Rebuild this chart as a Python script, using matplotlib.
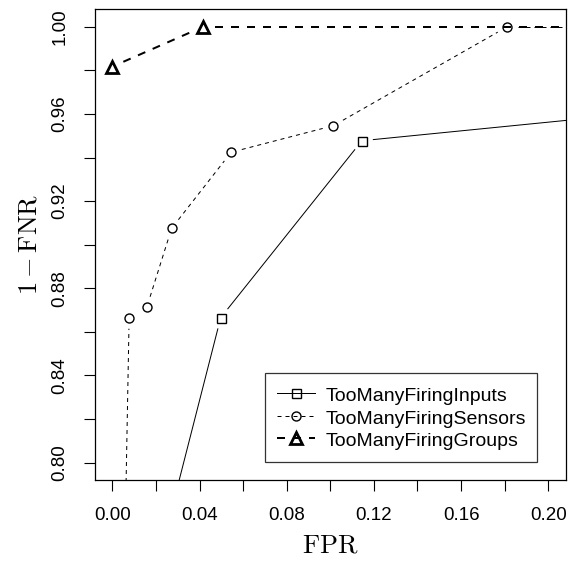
import matplotlib
matplotlib.use("Agg")
import matplotlib.pyplot as plt
from matplotlib.lines import Line2D
import numpy as np

plt.rcParams['font.family'] = ['Liberation Sans', 'DejaVu Sans']
plt.rcParams['mathtext.fontset'] = 'cm'
plt.rcParams['lines.scale_dashes'] = False

# Data (off-plot endpoints continue the visible segments)
inputs_fpr = [0.0, 0.0497, 0.1145, 0.64]
inputs_tpr = [0.672, 0.8665, 0.9477, 1.0]
sensors_fpr = [0.0, 0.0077, 0.0158, 0.0272, 0.0545, 0.1014, 0.1812, 1.0]
sensors_tpr = [0.45, 0.8665, 0.8713, 0.9075, 0.9424, 0.9546, 1.0, 1.0]
groups_fpr = [0.0, 0.0417, 1.0]
groups_tpr = [0.9817, 1.0, 1.0]
# which points carry markers (visible data points)
inputs_marks = [1, 2]
sensors_marks = [1, 2, 3, 4, 5, 6]
groups_marks = [0, 1]

series_names = ["TooManyFiringInputs", "TooManyFiringSensors", "TooManyFiringGroups"]

xticks = [0.00, 0.04, 0.08, 0.12, 0.16, 0.20]
yticks = [0.80, 0.84, 0.88, 0.92, 0.96, 1.00]

fig = plt.figure(figsize=(5.69, 5.69), dpi=100)
ax = fig.add_axes([0.1668, 0.1562, 0.9942 - 0.1668, 0.9837 - 0.1562])
ax.set_xlim(-0.008, 0.208)
ax.set_ylim(0.792, 1.008)

px = 72 / 100.0  # one pixel in points

styles = [
    dict(lw=1.0 * px, dashes=None, marker='s', ms=9 * px, mew=1.0, gap=11),
    dict(lw=1.0 * px, dashes=(4 * px, 4 * px), marker='o', ms=9 * px, mew=1.0, gap=11),
    dict(lw=2.0 * px, dashes=(8 * px, 8 * px), marker='^', ms=11.5 * px, mew=2.0, gap=12),
]
series = [(inputs_fpr, inputs_tpr, inputs_marks),
          (sensors_fpr, sensors_tpr, sensors_marks),
          (groups_fpr, groups_tpr, groups_marks)]

tr = ax.transData
inv = tr.inverted()
for (xs, ys, marks), st in zip(series, styles):
    P = tr.transform(np.column_stack([xs, ys]))
    for i in range(len(xs) - 1):
        a, b = P[i].copy(), P[i + 1].copy()
        d = b - a
        L = np.hypot(*d)
        u = d / L
        g0 = st['gap'] if i in marks else 0
        g1 = st['gap'] if (i + 1) in marks else 0
        if L <= g0 + g1:
            continue
        a2 = a + u * g0
        b2 = b - u * g1
        seg = inv.transform(np.vstack([a2, b2]))
        kw = dict(color='black', lw=st['lw'], solid_capstyle='butt', dash_capstyle='butt')
        if st['dashes'] is not None:
            kw['dashes'] = st['dashes']
        ax.plot(seg[:, 0], seg[:, 1], **kw)
    ax.plot([xs[m] for m in marks], [ys[m] for m in marks], ls='none', marker=st['marker'],
            mfc='none', mec='black', ms=st['ms'], mew=st['mew'])

handles = []
for name, st in zip(series_names, styles):
    kw = dict(color='black', lw=st['lw'], marker=st['marker'], mfc='none', mec='black',
              ms=st['ms'], mew=st['mew'])
    if st['dashes'] is not None:
        kw['dashes'] = st['dashes']
    handles.append(Line2D([], [], **kw))

xt = np.arange(0, 0.2001, 0.02)
yt = np.arange(0.80, 1.0001, 0.02)
ax.set_xticks(xt)
ax.set_yticks(yt)
ax.set_xticklabels([f"{v:.2f}" if any(abs(v - t) < 1e-9 for t in xticks) else "" for v in xt])
ax.set_yticklabels([f"{v:.2f}" if any(abs(v - t) < 1e-9 for t in yticks) else "" for v in yt],
                   rotation=90, va='center')
ax.tick_params(axis='both', direction='out', length=8, width=0.8, labelsize=13.5, pad=11)

for s in ax.spines.values():
    s.set_linewidth(0.9)

ax.set_xlabel(r'$\mathrm{FPR}$', fontsize=19, labelpad=7)
ax.set_ylabel(r'$1-\mathrm{FNR}$', fontsize=19, labelpad=7)

leg = ax.legend(handles, series_names, loc='lower right', bbox_to_anchor=(0.9397, 0.039),
                fontsize=14, frameon=True, fancybox=False, edgecolor='black',
                handlelength=2.0, handletextpad=0.5, borderpad=0.6, labelspacing=0.1,
                handleheight=1.17, borderaxespad=0)
leg.get_frame().set_linewidth(0.9)

fig.savefig("out.png", dpi=100)
